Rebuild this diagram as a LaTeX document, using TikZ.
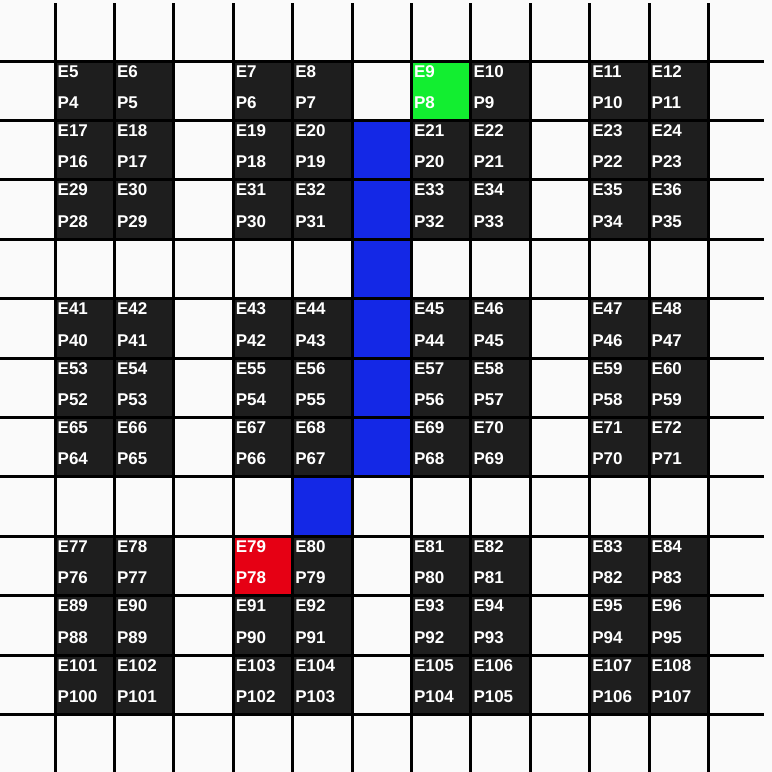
\documentclass[tikz,border=0pt]{standalone}
\usepackage{fontspec}
\setmainfont{Liberation Sans}
\definecolor{bg}{HTML}{FAFAFA}
\definecolor{darkcell}{HTML}{1E1E1E}
\definecolor{bluecell}{HTML}{1428E6}
\definecolor{greencell}{HTML}{12EE30}
\definecolor{redcell}{HTML}{E60014}
\begin{document}
\begin{tikzpicture}[x=1pt,y=-1pt,
  gridline/.style={line width=3pt,draw=black},
  lbl/.style={text=white,font=\bfseries\fontsize{17}{17}\selectfont,inner sep=0pt,anchor=base west}]
\useasboundingbox[fill=bg] (0,0) rectangle (772,772);
\def\cs{59.4}
% dark cells
\foreach \d/\r in {0/1,1/2,2/3,3/5,4/6,5/7,6/9,7/10,8/11}{
  \foreach \c/\k in {0/1,1/2,2/4,3/5,4/7,5/8,6/10,7/11}{
    \pgfmathsetmacro{\X}{55+59.4*(\k-1)}
    \pgfmathsetmacro{\Y}{61+59.4*(\r-1)}
    \fill[darkcell] (\X,\Y) rectangle ++(\cs,\cs);
  }
}
% coloured cells
\foreach \k/\r in {6/2,6/3,6/4,6/5,6/6,6/7,5/8}{
  \pgfmathsetmacro{\X}{55+59.4*(\k-1)}
  \pgfmathsetmacro{\Y}{61+59.4*(\r-1)}
  \fill[bluecell] (\X,\Y) rectangle ++(\cs,\cs);
}
\fill[greencell] (411.4,61) rectangle ++(\cs,\cs);
\fill[redcell] (233.2,536.2) rectangle ++(\cs,\cs);
% labels
\foreach \d/\r in {0/1,1/2,2/3,3/5,4/6,5/7,6/9,7/10,8/11}{
  \foreach \c/\k in {0/1,1/2,2/4,3/5,4/7,5/8,6/10,7/11}{
    \pgfmathsetmacro{\X}{55+59.4*(\k-1)}
    \pgfmathsetmacro{\Y}{61+59.4*(\r-1)}
    \pgfmathtruncatemacro{\E}{5+12*\d+\c}
    \pgfmathtruncatemacro{\P}{\E-1}
    \node[lbl] (e\E) at (\X+2.5,\Y+16) {E\E};
    \node[lbl] (p\P) at (\X+2.5,\Y+47.5) {P\P};
  }
}
% grid lines
\foreach \k in {1,...,12}{
  \pgfmathsetmacro{\X}{55+59.4*(\k-1)}
  \draw[gridline] (\X,3) -- (\X,772);
}
\foreach \r in {1,...,12}{
  \pgfmathsetmacro{\Y}{61+59.4*(\r-1)}
  \draw[gridline] (0,\Y) -- (764,\Y);
}
\end{tikzpicture}
\end{document}
